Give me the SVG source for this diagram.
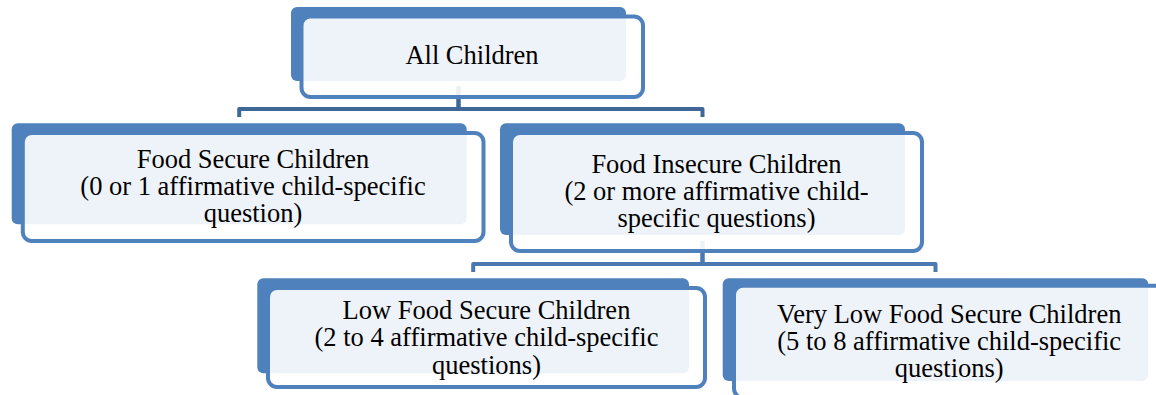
<svg xmlns="http://www.w3.org/2000/svg" width="1156" height="395" viewBox="0 0 1156 395">
<style>
.back{fill:#4F81BD;}
.front{fill:#FFFFFF;fill-opacity:0.9;stroke:#4F81BD;stroke-width:4;}
.conn1{fill:none;stroke:#3F6898;stroke-width:4;stroke-linejoin:round;}
.conn2{fill:none;stroke:#4A79B2;stroke-width:4;stroke-linejoin:round;}
.lbl{font-family:'Liberation Serif',Tinos,'Times New Roman',Times,'DejaVu Serif',serif;font-size:26.5px;fill:#000000;text-anchor:middle;}
</style>
<rect width="1156" height="395" fill="#FFFFFF"/>
<g id="connectors">
<path class="conn1" d="M458.5 86 V109 H239.2 V117"/>
<path class="conn1" d="M458.5 86 V109 H702.5 V117"/>
<path class="conn2" d="M702.5 241 V264 H473.2 V272"/>
<path class="conn2" d="M702.5 241 V264 H935.5 V272"/>
</g>
<g id="node-all">
<rect class="back" x="291" y="7" width="335" height="74" rx="6"/>
<rect class="front" x="301.5" y="16.5" width="341.5" height="80.5" rx="9"/>
<text class="lbl" font-family="Liberation Serif, serif" x="472" y="64.3">All Children</text>
</g>
<g id="node-secure" font-family="Liberation Serif, serif">
<rect class="back" x="11.7" y="123.3" width="455" height="101" rx="6"/>
<rect class="front" x="22.8" y="133" width="460.7" height="108" rx="9"/>
<text class="lbl" x="253" y="168.3">Food Secure Children</text>
<text class="lbl" x="253" y="195">(0 or 1 affirmative child-specific</text>
<text class="lbl" x="253" y="221.7">question)</text>
</g>
<g id="node-insecure" font-family="Liberation Serif, serif">
<rect class="back" x="500" y="123.3" width="405" height="111.7" rx="6"/>
<rect class="front" x="511" y="133" width="411" height="118" rx="9"/>
<text class="lbl" x="716.5" y="172.5">Food Insecure Children</text>
<text class="lbl" x="716.5" y="199.8">(2 or more affirmative child-</text>
<text class="lbl" x="716.5" y="227">specific questions)</text>
</g>
<g id="node-low" font-family="Liberation Serif, serif">
<rect class="back" x="257.3" y="278.3" width="431.7" height="95" rx="6"/>
<rect class="front" x="268" y="288" width="437" height="99" rx="9"/>
<text class="lbl" x="486.5" y="318.5">Low Food Secure Children</text>
<text class="lbl" x="486.5" y="346">(2 to 4 affirmative child-specific</text>
<text class="lbl" x="486.5" y="373.5">questions)</text>
</g>
<g id="node-verylow" font-family="Liberation Serif, serif">
<rect class="back" x="722.7" y="278.3" width="425.6" height="102.7" rx="6"/>
<rect class="front" x="734" y="285.7" width="430" height="112" rx="9"/>
<text class="lbl" x="949.2" y="323.3">Very Low Food Secure Children</text>
<text class="lbl" x="949.2" y="350">(5 to 8 affirmative child-specific</text>
<text class="lbl" x="949.2" y="376.7">questions)</text>
</g>
</svg>
